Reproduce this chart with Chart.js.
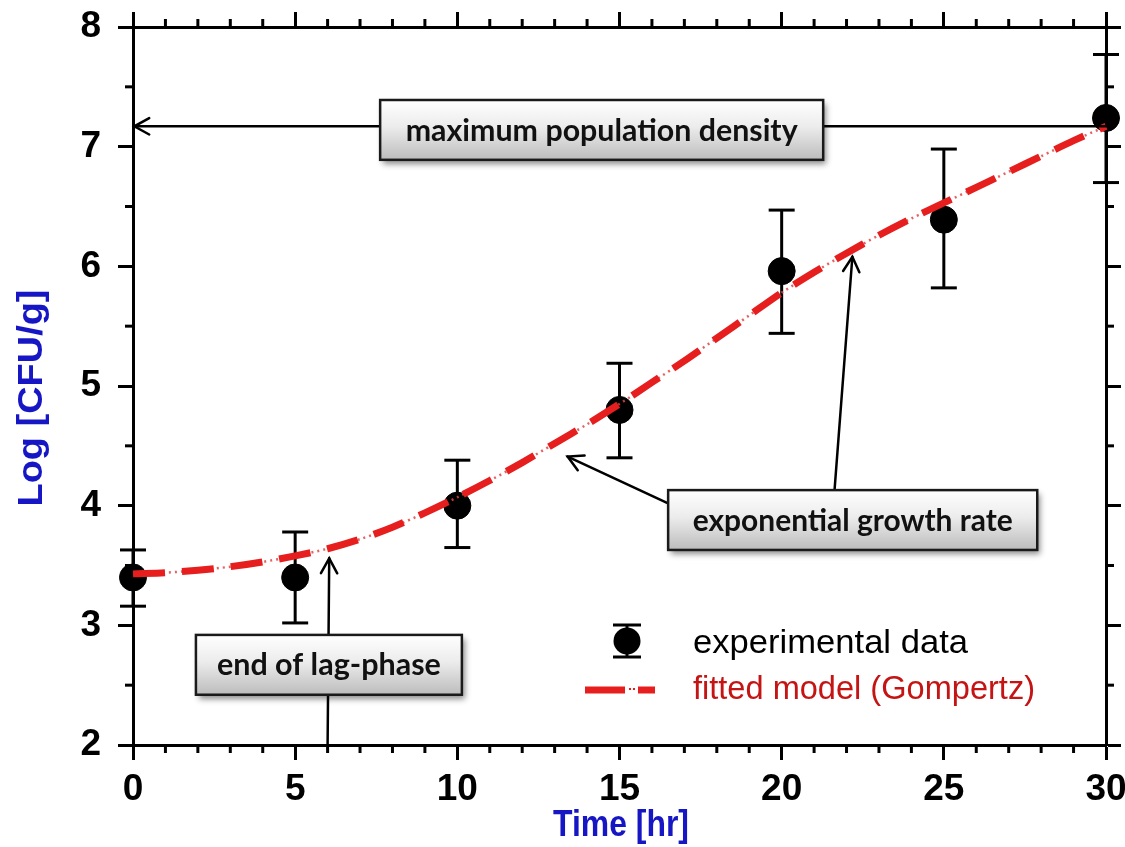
<!DOCTYPE html>
<html>
<head>
<meta charset="utf-8">
<title>Growth curve</title>
<script src="https://cdn.jsdelivr.net/npm/chart.js@4"></script>
<style>
  html, body { margin: 0; padding: 0; background: #fff; }
  #wrap { width: 1125px; height: 847px; position: relative; }
</style>
</head>
<body>
<div id="wrap"><canvas id="chart-goes-here"></canvas></div>
<script>
// experimental data (hours, log CFU/g) with error bar ends
const timeHr = [0, 5, 10, 15, 20, 25, 30];
const logCfu = [3.40, 3.40, 4.00, 4.80, 5.96, 6.39, 7.24];
const errLow = [3.16, 3.02, 3.65, 4.40, 5.44, 5.82, 6.70];
const errHigh = [3.63, 3.78, 4.38, 5.19, 6.47, 6.98, 7.77];

// fitted Gompertz curve
const fitTime = [0, 1, 2, 3, 4, 5, 6, 7, 8, 9, 10, 11, 12, 13, 14, 15,
  16, 17, 18, 19, 20, 21, 22, 23, 24, 25, 26, 27, 28, 29, 30];
const fitLog = [3.43, 3.44, 3.46, 3.49, 3.53, 3.58, 3.64, 3.72, 3.82, 3.94, 4.07,
  4.21, 4.36, 4.52, 4.68, 4.85, 5.03, 5.21, 5.40, 5.59, 5.78,
  5.95, 6.11, 6.26, 6.40, 6.53, 6.66, 6.79, 6.92, 7.05, 7.17];

const xTicks = [0, 5, 10, 15, 20, 25, 30];
const xMinorTicks = [1, 2, 3, 4, 6, 7, 8, 9, 11, 12, 13, 14, 16, 17, 18, 19, 21, 22, 23, 24, 26, 27, 28, 29];
const yTicks = [2, 3, 4, 5, 6, 7, 8];
const yMinorTicks = [2.5, 3.5, 4.5, 5.5, 6.5, 7.5];

// call-out boxes and arrows, in data units
const notes = [
  { text: 'maximum population density', x0: 7.62, x1: 21.28, y0: 6.89, y1: 7.39, w: 392 },
  { text: 'exponential growth rate', x0: 16.5, x1: 27.88, y0: 3.63, y1: 4.13, w: 320 },
  { text: 'end of lag-phase', x0: 1.94, x1: 10.14, y0: 2.42, y1: 2.92, w: 224 }
];
const arrows = [
  { from: [7.62, 7.17], to: [0.04, 7.17], head: true },
  { from: [21.28, 7.17], to: [30, 7.17], head: false },
  { from: [16.5, 4.02], to: [13.4, 4.41], head: true },
  { from: [21.63, 4.13], to: [22.18, 6.08], head: true },
  { from: [6.0, 2.0], to: [6.05, 3.56], head: true }
];

const RED = '#e61e1e';
const TITLE_BLUE = '#1616c4';
const fontFamily = '"Liberation Sans", Arial, sans-serif';

const expPts = timeHr.map((t, i) => ({ x: t, y: logCfu[i] }));
const fitPts = fitTime.map((t, i) => ({ x: t, y: fitLog[i] }));

function fitText(ctx, text, x, y, font, width, align) {
  ctx.font = font;
  const natural = ctx.measureText(text).width;
  ctx.save();
  ctx.translate(x, y);
  ctx.scale(width / natural, 1);
  ctx.textAlign = align || 'center';
  ctx.fillText(text, 0, 0);
  ctx.restore();
}

function line(ctx, x0, y0, x1, y1) {
  ctx.beginPath();
  ctx.moveTo(x0, y0);
  ctx.lineTo(x1, y1);
  ctx.stroke();
}

function arrow(ctx, x0, y0, x1, y1, head) {
  line(ctx, x0, y0, x1, y1);
  if (!head) return;
  const a = Math.atan2(y1 - y0, x1 - x0), L = 17, s = 0.5;
  ctx.beginPath();
  ctx.moveTo(x1 - L * Math.cos(a - s), y1 - L * Math.sin(a - s));
  ctx.lineTo(x1, y1);
  ctx.lineTo(x1 - L * Math.cos(a + s), y1 - L * Math.sin(a + s));
  ctx.stroke();
}

const extras = {
  id: 'extras',
  beforeDatasetsDraw(chart) {
    // error bars
    const ctx = chart.ctx, sx = chart.scales.x, sy = chart.scales.y;
    ctx.save();
    ctx.strokeStyle = '#000';
    ctx.lineWidth = 3;
    timeHr.forEach((t, i) => {
      const X = sx.getPixelForValue(t);
      const lo = sy.getPixelForValue(errLow[i]), hi = sy.getPixelForValue(errHigh[i]);
      line(ctx, X, lo, X, hi);
      line(ctx, X - 13, lo, X + 13, lo);
      line(ctx, X - 13, hi, X + 13, hi);
    });
    ctx.restore();
  },
  afterDatasetsDraw(chart) {
    const ctx = chart.ctx, sx = chart.scales.x, sy = chart.scales.y;
    ctx.save();
    ctx.strokeStyle = '#000';
    ctx.lineWidth = 2.5;
    ctx.lineCap = 'round';
    arrows.forEach(a => arrow(ctx,
      sx.getPixelForValue(a.from[0]), sy.getPixelForValue(a.from[1]),
      sx.getPixelForValue(a.to[0]), sy.getPixelForValue(a.to[1]), a.head));

    notes.forEach(n => {
      const l = sx.getPixelForValue(n.x0), r = sx.getPixelForValue(n.x1);
      const t = sy.getPixelForValue(n.y1), b = sy.getPixelForValue(n.y0);
      ctx.save();
      ctx.shadowColor = 'rgba(0,0,0,0.45)';
      ctx.shadowBlur = 6;
      ctx.shadowOffsetX = 3;
      ctx.shadowOffsetY = 4;
      const g = ctx.createLinearGradient(0, t, 0, b);
      g.addColorStop(0, '#ffffff');
      g.addColorStop(0.45, '#ececec');
      g.addColorStop(1, '#bcbcbc');
      ctx.fillStyle = g;
      ctx.fillRect(l, t, r - l, b - t);
      ctx.restore();
      ctx.lineWidth = 2.5;
      ctx.strokeStyle = '#1a1a1a';
      ctx.strokeRect(l, t, r - l, b - t);
      ctx.fillStyle = '#111';
      ctx.textBaseline = 'middle';
      fitText(ctx, n.text, (l + r) / 2, (t + b) / 2 + 1, 'bold 30px Lato, sans-serif', n.w);
    });
    ctx.restore();
  },
  afterDraw(chart) {
    const ctx = chart.ctx, sx = chart.scales.x, sy = chart.scales.y;
    const { left, right, top, bottom } = chart.chartArea;
    ctx.save();
    // minor ticks on all four sides
    ctx.strokeStyle = '#000';
    ctx.lineWidth = 3;
    xMinorTicks.forEach(v => {
      const X = sx.getPixelForValue(v);
      line(ctx, X, bottom, X, bottom + 8);
      line(ctx, X, top, X, top - 8);
    });
    yMinorTicks.forEach(v => {
      const Y = sy.getPixelForValue(v);
      line(ctx, left, Y, left - 8, Y);
      line(ctx, right, Y, right + 8, Y);
    });

    // axis titles
    ctx.fillStyle = TITLE_BLUE;
    ctx.textBaseline = 'middle';
    fitText(ctx, 'Time [hr]', 621, 826, 'bold 36px ' + fontFamily, 136);
    ctx.save();
    ctx.translate(32, 398);
    ctx.rotate(-Math.PI / 2);
    fitText(ctx, 'Log [CFU/g]', 0, 0, 'bold 35px ' + fontFamily, 217);
    ctx.restore();

    // legend
    ctx.strokeStyle = '#000';
    ctx.lineWidth = 3;
    line(ctx, 627, 625, 627, 657);
    line(ctx, 613, 625, 641, 625);
    line(ctx, 613, 657, 641, 657);
    ctx.fillStyle = '#000';
    ctx.beginPath();
    ctx.arc(627, 641, 13.5, 0, Math.PI * 2);
    ctx.fill();
    ctx.strokeStyle = RED;
    ctx.lineWidth = 7;
    line(ctx, 585, 690, 625, 690);
    line(ctx, 638, 690, 655, 690);
    ctx.fillStyle = RED;
    ctx.fillRect(629, 688, 2, 2);
    ctx.fillRect(633, 688, 2, 2);
    ctx.textBaseline = 'alphabetic';
    ctx.fillStyle = '#000';
    fitText(ctx, 'experimental data', 693, 653, '34px ' + fontFamily, 275, 'left');
    ctx.fillStyle = '#c41414';
    fitText(ctx, 'fitted model (Gompertz)', 693, 699, '34px ' + fontFamily, 342, 'left');
    ctx.restore();
  }
};

const axisBorder = { display: true, color: '#000', width: 3 };
const majorGrid = { drawOnChartArea: false, tickLength: 15, tickWidth: 3, tickColor: '#000' };
const tickFont = { family: fontFamily, size: 37, weight: 'bold' };

const config = {
  type: 'scatter',
  data: {
    datasets: [
      {
        label: 'fitted model (Gompertz)',
        data: fitPts,
        showLine: true,
        borderColor: RED,
        borderWidth: 7,
        borderDash: [32, 17],
        borderCapStyle: 'butt',
        pointRadius: 0,
        tension: 0.3,
        clip: false
      },
      {
        label: 'fitted model dots',
        data: fitPts,
        showLine: true,
        borderColor: 'rgba(225,70,70,0.85)',
        borderWidth: 2.5,
        borderDash: [2, 4],
        pointRadius: 0,
        tension: 0.3,
        clip: false
      },
      {
        label: 'experimental data',
        data: expPts,
        pointRadius: 13.5,
        pointBackgroundColor: '#000',
        pointBorderColor: '#000',
        pointBorderWidth: 1,
        clip: false
      }
    ]
  },
  options: {
    responsive: true,
    maintainAspectRatio: false,
    devicePixelRatio: 1,
    animation: false,
    layout: { padding: 0 },
    plugins: { legend: { display: false }, tooltip: { enabled: false } },
    scales: {
      x: {
        type: 'linear', position: 'bottom', min: 0, max: 30,
        afterBuildTicks: s => { s.ticks = xTicks.map(v => ({ value: v })); },
        ticks: { font: tickFont, color: '#000', padding: 8, maxRotation: 0, autoSkip: false },
        grid: majorGrid, border: axisBorder,
        afterFit: s => { s.height = 102; s.paddingLeft = 0; s.paddingRight = 0; }
      },
      x2: {
        type: 'linear', axis: 'x', position: 'top', min: 0, max: 30,
        afterBuildTicks: s => { s.ticks = xTicks.map(v => ({ value: v })); },
        ticks: { display: false },
        grid: majorGrid, border: axisBorder,
        afterFit: s => { s.height = 27; s.paddingLeft = 0; s.paddingRight = 0; }
      },
      y: {
        type: 'linear', position: 'left', min: 2, max: 8,
        afterBuildTicks: s => { s.ticks = yTicks.map(v => ({ value: v })); },
        ticks: { font: tickFont, color: '#000', padding: 17 },
        grid: majorGrid, border: axisBorder,
        afterFit: s => { s.width = 133; s.paddingTop = 0; s.paddingBottom = 0; }
      },
      y2: {
        type: 'linear', axis: 'y', position: 'right', min: 2, max: 8,
        afterBuildTicks: s => { s.ticks = yTicks.map(v => ({ value: v })); },
        ticks: { display: false },
        grid: majorGrid, border: axisBorder,
        afterFit: s => { s.width = 19; s.paddingTop = 0; s.paddingBottom = 0; }
      }
    }
  },
  plugins: [extras]
};

const myChart = new Chart(document.getElementById('chart-goes-here'), config);
</script>
</body>
</html>
